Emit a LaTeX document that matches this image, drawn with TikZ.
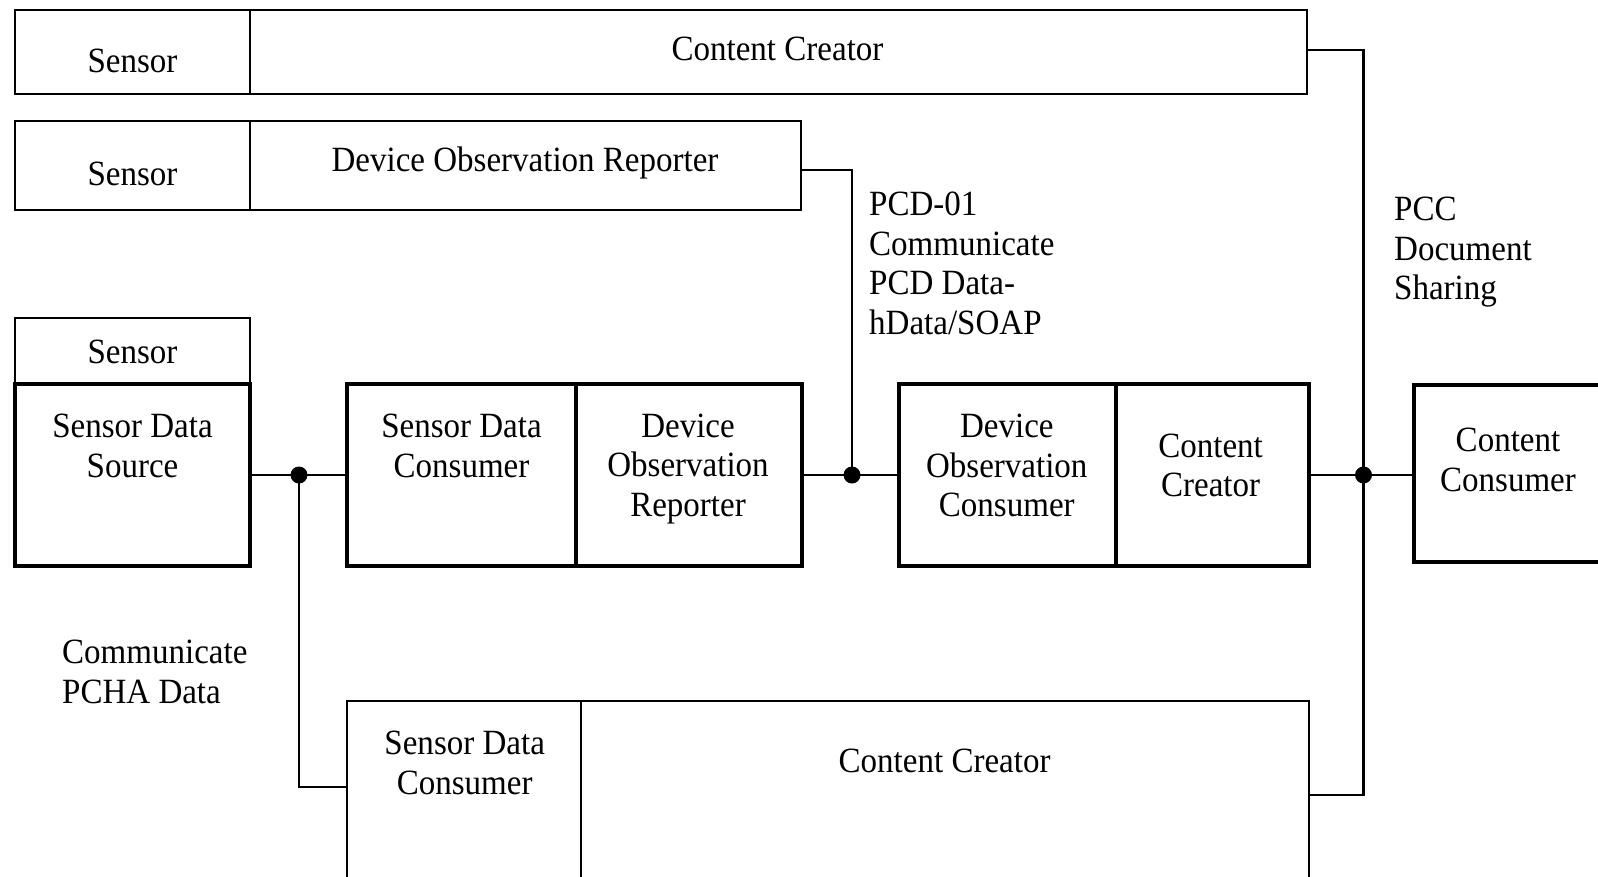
\documentclass[tikz,border=0pt]{standalone}
\usepackage{fontspec}
\setmainfont[FakeStretch=0.93]{Liberation Serif}
\begin{document}
\begin{tikzpicture}[x=1pt,y=-1pt,
  box/.style={draw, line width=2pt, inner sep=0pt, outer sep=0pt},
  tbox/.style={draw, line width=4.5pt, inner sep=0pt, outer sep=0pt},
  lbl/.style={inner sep=0pt, align=center, font=\fontsize{35.5}{39.5}\selectfont},
  llbl/.style={inner sep=0pt, align=left, anchor=west, font=\fontsize{35.5}{39.5}\selectfont},
  conn/.style={line width=2.5pt},
  dot/.style={circle, fill=black, inner sep=0pt, minimum size=17pt}]
\useasboundingbox (0,0) rectangle (1598,876);
\clip (0,0) rectangle (1598,876);
% top row
\node[box, minimum width=235pt, minimum height=84pt] (s1) at (132.5,52) {};
\node[box, minimum width=1057pt, minimum height=84pt] (cc1) at (778.5,52) {};
\node[lbl] (s1t) at (132.5,61) {Sensor};
\node[lbl] (cc1t) at (777.5,49) {Content Creator};
% second row
\node[box, minimum width=235pt, minimum height=89pt] (s2) at (132.5,165.5) {};
\node[box, minimum width=551pt, minimum height=89pt] (dor1) at (525.5,165.5) {};
\node[lbl] (s2t) at (132.5,174) {Sensor};
\node[lbl] (dor1t) at (525,163) {Device Observation Reporter};
% middle row
\node[box, minimum width=235pt, minimum height=66pt] (s3) at (132.5,351) {};
\node[lbl] (s3t) at (132.5,351.5) {Sensor};
\node[tbox, minimum width=235pt, minimum height=182pt] (sds) at (132.5,475) {};
\node[lbl] (sdst) at (132.5,446) {Sensor Data\\Source};
\node[tbox, minimum width=229pt, minimum height=182pt] (sdc) at (461.5,475) {};
\node[lbl] (sdct) at (461.5,446) {Sensor Data\\Consumer};
\node[tbox, minimum width=226pt, minimum height=182pt] (dor2) at (689,475) {};
\node[lbl] (dor2t) at (688,469) {Device\\Observation\\Reporter};
\node[tbox, minimum width=217pt, minimum height=182pt] (doc) at (1007.5,475) {};
\node[lbl] (doct) at (1006.8,465.5) {Device\\Observation\\Consumer};
\node[tbox, minimum width=193pt, minimum height=182pt] (cc2) at (1212.5,475) {};
\node[lbl] (cc2t) at (1210.6,465.5) {Content\\Creator};
\node[tbox, minimum width=206pt, minimum height=177pt] (ccons) at (1517,473.5) {};
\node[lbl] (cconst) at (1508,460) {Content\\Consumer};
% bottom row
\node[box, minimum width=234pt, minimum height=199pt] (sdc2) at (464,800.5) {};
\node[box, minimum width=728pt, minimum height=199pt] (cc3) at (945,800.5) {};
\node[lbl] (sdc2t) at (464.7,763) {Sensor Data\\Consumer};
\node[lbl] (cc3t) at (944.6,761) {Content Creator};
% labels
\node[llbl] (pcd) at (869,263.5) {PCD-01\\Communicate\\PCD Data-\\hData/SOAP};
\node[llbl] (pcc) at (1394,252.5) {PCC\\Document\\Sharing};
\node[llbl] (pcha) at (62,672) {Communicate\\PCHA Data};
% junctions
\node[dot] (j1) at (299,475) {};
\node[dot] (j2) at (852,475) {};
\node[dot] (j3) at (1363.5,475) {};
\coordinate (b1) at (299,787);
\coordinate (t2) at (852,170);
\coordinate (t3) at (1363.5,50);
\coordinate (b3) at (1363.5,795);
% connectors
\draw[conn] (sds.east) -- (j1.center) -- (sdc.west);
\draw[conn] (j1.center) -- (b1) -- (b1 -| sdc2.west);
\draw[conn] (dor2.east) -- (j2.center) -- (doc.west);
\draw[conn] (j2.center) -- (t2) -- (t2 -| dor1.east);
\draw[conn] (cc2.east) -- (j3.center) -- (j3 -| ccons.west);
\draw[conn] (j3.center) -- (t3) -- (t3 -| cc1.east);
\draw[conn] (j3.center) -- (b3) -- (b3 -| cc3.east);
\end{tikzpicture}
\end{document}
